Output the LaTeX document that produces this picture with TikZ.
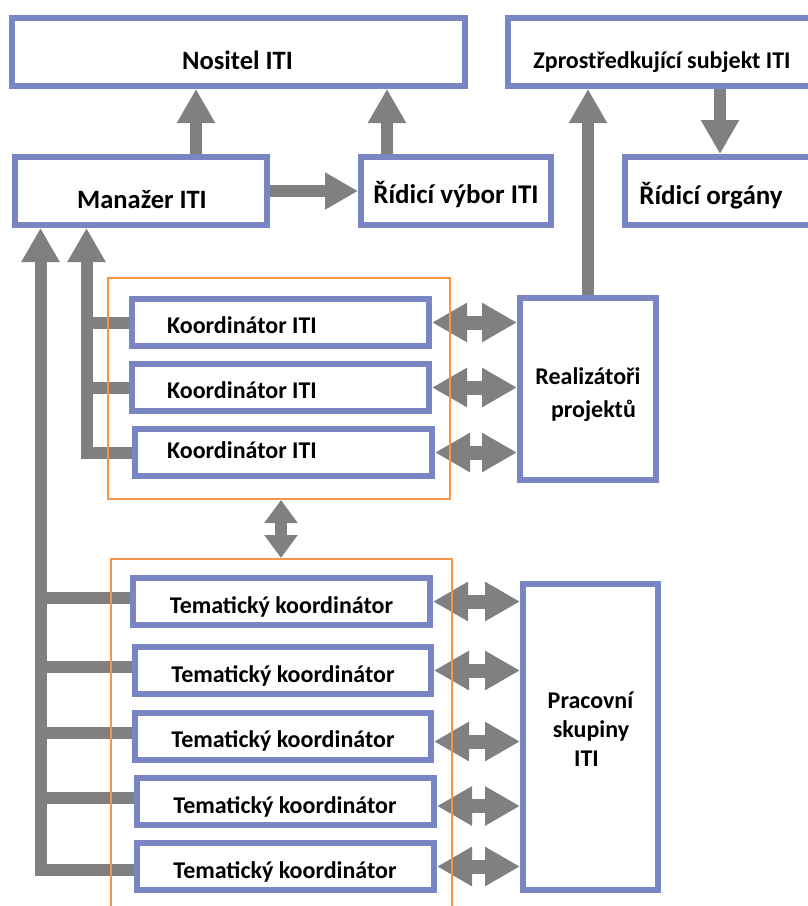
\documentclass[tikz,border=0pt]{standalone}
\usepackage{fontspec}
\setmainfont{Carlito}
\usetikzlibrary{arrows.meta,calc}
\definecolor{bbox}{RGB}{122,134,195}
\definecolor{garr}{RGB}{128,128,128}
\definecolor{obox}{RGB}{247,150,70}
\begin{document}
\begin{tikzpicture}[x=1pt,y=-1pt,
  box/.style={draw=bbox, line width=6pt, fill=white, inner sep=0pt},
  lbl/.style={font=\bfseries\fontsize{24}{29}\selectfont, anchor=base, inner sep=0pt, text=black},
  lblb/.style={lbl, font=\bfseries\fontsize{26.5}{32}\selectfont},
  lblc/.style={lbl, font=\bfseries\fontsize{27}{32}\selectfont},
  orng/.style={draw=obox, line width=2pt, inner sep=0pt},
  bar/.style={draw=garr, line width=12pt},
  uarr/.style={draw=garr, line width=12pt, -{Triangle[width=36pt,length=34pt]}},
  harr/.style={draw=garr, line width=12pt, -{Triangle[width=35pt,length=33pt]}},
  darr/.style={draw=garr, line width=14pt, {Triangle[width=37pt,length=35pt]}-{Triangle[width=37pt,length=35pt]}},
  vdarr/.style={draw=garr, line width=12pt, {Triangle[width=32pt,length=23pt]}-{Triangle[width=32pt,length=23pt]}}
]
\useasboundingbox (0,0) rectangle (808,906);

% boxes
\node[box, minimum width=453pt, minimum height=68pt] (nos) at (238.5,52) {};
\node[box, minimum width=317pt, minimum height=68pt] (zps) at (666.5,52) {};
\node[box, minimum width=252pt, minimum height=68pt] (man) at (141,191) {};
\node[box, minimum width=190pt, minimum height=68pt] (rvy) at (456,191) {};
\node[box, minimum width=200pt, minimum height=68pt] (rorg) at (725,191) {};
\node[box, minimum width=297pt, minimum height=47pt] (k1) at (280.5,322.5) {};
\node[box, minimum width=297pt, minimum height=47pt] (k2) at (280.5,387.5) {};
\node[box, minimum width=297pt, minimum height=47pt] (k3) at (283.5,452.5) {};
\node[box, minimum width=297pt, minimum height=47pt] (t1) at (281.5,601.5) {};
\node[box, minimum width=296pt, minimum height=47pt] (t2) at (283,670.5) {};
\node[box, minimum width=296pt, minimum height=47pt] (t3) at (283,736.5) {};
\node[box, minimum width=297pt, minimum height=47pt] (t4) at (285.5,801.5) {};
\node[box, minimum width=297pt, minimum height=47pt] (t5) at (285.5,866.5) {};
\node[box, minimum width=136pt, minimum height=182pt] (real) at (588,389) {};
\node[box, minimum width=135pt, minimum height=306pt] (prac) at (590.5,737) {};

% labels
\node[lblb] (nosT) at (237.5,69) {Nositel ITI};
\node[lbl] (zpsT) at (662,68) {Zprostředkující subjekt ITI};
\node[lblb] (manT) at (142,208) {Manažer ITI};
\node[lblc] (rvyT) at (456,203) {Řídicí výbor ITI};
\node[lblc] (rorgT) at (711,204) {Řídicí orgány};
\node[lbl] (k1T) at (242,333) {Koordinátor ITI};
\node[lbl] (k2T) at (242,398) {Koordinátor ITI};
\node[lbl] (k3T) at (242,458) {Koordinátor ITI};
\node[lbl] (t1T) at (281.5,613) {Tematický koordinátor};
\node[lbl] (t2T) at (283,682) {Tematický koordinátor};
\node[lbl] (t3T) at (283,747) {Tematický koordinátor};
\node[lbl] (t4T) at (285,813) {Tematický koordinátor};
\node[lbl] (t5T) at (285,878) {Tematický koordinátor};
\node[lbl] (realT1) at (588,384) {Realizátoři};
\node[lbl] (realT2) at (593.5,417) {projektů};
\node[lbl] (pracT1) at (590.5,708) {Pracovní};
\node[lbl] (pracT2) at (591,737) {skupiny};
\node[lbl] (pracT3) at (586.5,766) {ITI};

% helper coordinates
\coordinate (xa) at (196,0);
\coordinate (xb) at (387,0);
\coordinate (xc) at (720,0);
\coordinate (L1) at (40.5,0);
\coordinate (L2) at (86.5,0);
\coordinate (xv) at (281,0);
\coordinate (t1b) at ($(t1.west)+(0,-3.5)$);
\coordinate (t2b) at ($(t2.west)+(0,-3.5)$);
\coordinate (t3b) at ($(t3.west)+(0,-3.5)$);
\coordinate (t4b) at ($(t4.west)+(0,-3.5)$);
\coordinate (t5b) at ($(t5.west)+(0,3)$);
\coordinate (t3r) at ($(t3.east)+(0,5)$);
\coordinate (t4r) at ($(t4.east)+(0,4.5)$);

% top arrows
\draw[uarr] (man.north -| xa) -- (nos.south -| xa);
\draw[uarr] (rvy.north -| xb) -- (nos.south -| xb);
\draw[harr] (man.east) -- (rvy.west);
\draw[uarr] (real.north) -- (zps.south -| real.north);
\draw[uarr] (zps.south -| xc) -- (rorg.north -| xc);

% left feedback lines
\draw[uarr, line join=miter] (t5b) -| (man.south -| L1);
\draw[bar] (t1b) -- (t1b -| L1);
\draw[bar] (t2b) -- (t2b -| L1);
\draw[bar] (t3b) -- (t3b -| L1);
\draw[bar] (t4b) -- (t4b -| L1);
\draw[uarr, line join=miter] (k3.west) -| (man.south -| L2);
\draw[bar] (k1.west) -- (k1.west -| L2);
\draw[bar] (k2.west) -- (k2.west -| L2);

% double arrows
\draw[darr] (k1.east) -- (k1.east -| real.west);
\draw[darr] (k2.east) -- (k2.east -| real.west);
\draw[darr] (k3.east) -- (k3.east -| real.west);
\draw[darr] (t1.east) -- (t1.east -| prac.west);
\draw[darr] (t2.east) -- (t2.east -| prac.west);
\draw[darr] (t3r) -- (t3r -| prac.west);
\draw[darr] (t4r) -- (t4r -| prac.west);
\draw[darr] (t5.east) -- (t5.east -| prac.west);

% orange groups
\node[orng, minimum width=342pt, minimum height=221pt] (g1) at (279,388.5) {};
\node[orng, minimum width=341pt, minimum height=371pt] (g2) at (281.5,744.5) {};
\draw[vdarr] (g1.south -| xv) -- (g2.north -| xv);
\end{tikzpicture}
\end{document}
